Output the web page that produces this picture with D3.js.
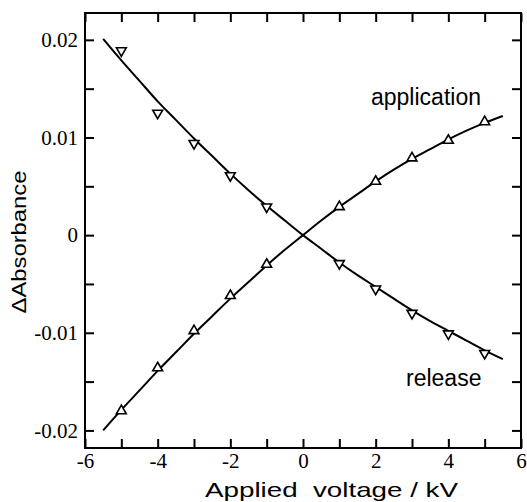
<!DOCTYPE html>
<html><head><meta charset="utf-8">
<script src="https://cdn.jsdelivr.net/npm/d3@7"></script>
<style>body{margin:0;background:#fff} .tick text{font-family:"Liberation Serif","Times New Roman",serif !important;font-size:21px !important;}</style>
</head><body>
<svg id="c" width="527" height="502"></svg>
<script>
// Measured points
const voltages = [-5, -4, -3, -2, -1, 1, 2, 3, 4, 5];
const releaseVals = [0.0189, 0.0125, 0.0094, 0.0061, 0.0029, -0.0029, -0.0055, -0.0080, -0.0101, -0.0121];
const applicationVals = [-0.0180, -0.0136, -0.0098, -0.0062, -0.0030, 0.0029, 0.0055, 0.0079, 0.0097, 0.0116];
// Fitted curves
const curveX = [-5.5,-5,-4.5,-4,-3.5,-3,-2.5,-2,-1.5,-1,-0.5,0,0.5,1,1.5,2,2.5,3,3.5,4,4.5,5,5.5];
const releaseFit = [0.0201,0.0179,0.0158,0.0137,0.0118,0.0099,0.0081,0.0063,0.0046,0.0030,0.0015,0,-0.0014,-0.0028,-0.0041,-0.0053,-0.0065,-0.0077,-0.0088,-0.0098,-0.0108,-0.0118,-0.0127];
const applicationFit = [-0.0200,-0.0179,-0.0159,-0.0139,-0.0120,-0.0101,-0.0083,-0.0065,-0.0048,-0.0031,-0.0015,0,0.0015,0.0029,0.0042,0.0055,0.0067,0.0078,0.0088,0.0098,0.0107,0.0115,0.0122];
const xTicks = [-6,-4,-2,0,2,4,6];
const xMinor = [-6,-5,-4,-3,-2,-1,0,1,2,3,4,5,6];
const yTicks = [-0.02,-0.01,0,0.01,0.02];
const yMinor = [-0.02,-0.015,-0.01,-0.005,0,0.005,0.01,0.015,0.02];
const yTickLabels = ["-0.02","-0.01","0","0.01","0.02"];

const L=85,R=521,T=13,B=448;
const svg=d3.select("#c");
const x=d3.scaleLinear().domain([-6,6]).range([L,R]);
const y=d3.scaleLinear().domain([-0.0218,0.02275]).range([B,T]);
const serif="Liberation Serif, Times New Roman, serif";
const sans="Liberation Sans, Arial, sans-serif";

// axes with inward ticks
const tk=9;
const gB=svg.append("g").attr("transform",`translate(0,${B})`)
  .call(d3.axisBottom(x).tickValues(xMinor).tickSize(-tk).tickPadding(5).tickFormat(d=>xTicks.includes(d)?String(d):""));
const gT=svg.append("g").attr("transform",`translate(0,${T})`)
  .call(d3.axisTop(x).tickValues(xMinor).tickSize(-tk).tickFormat(""));
const gL=svg.append("g").attr("transform",`translate(${L},0)`)
  .call(d3.axisLeft(y).tickValues(yMinor).tickSize(-tk).tickPadding(7).tickFormat(d=>{const i=yTicks.findIndex(v=>Math.abs(v-d)<1e-9);return i>=0?yTickLabels[i]:"";}));
const gR=svg.append("g").attr("transform",`translate(${R},0)`)
  .call(d3.axisRight(y).tickValues(yMinor).tickSize(-tk).tickFormat(""));
[gB,gT,gL,gR].forEach(g=>{
  g.attr("font-family",serif).attr("font-size",21);
  g.select(".domain").remove();
  g.selectAll(".tick line").attr("stroke","#000").attr("stroke-width",2);
  g.selectAll(".tick text").attr("font-family",serif).attr("font-size",21).attr("fill","#000");
});
svg.append("rect").attr("x",L).attr("y",T).attr("width",R-L).attr("height",B-T)
  .attr("fill","none").attr("stroke","#000").attr("stroke-width",2);

// fitted curves
const line=d3.line().x(d=>x(d[0])).y(d=>y(d[1])).curve(d3.curveMonotoneX);
svg.append("path").datum(curveX.map((v,i)=>[v,releaseFit[i]])).attr("d",line)
  .attr("fill","none").attr("stroke","#000").attr("stroke-width",2);
svg.append("path").datum(curveX.map((v,i)=>[v,applicationFit[i]])).attr("d",line)
  .attr("fill","none").attr("stroke","#000").attr("stroke-width",2);

// markers
const tri=d3.symbol().type(d3.symbolTriangle).size(42);
svg.append("g").selectAll("path").data(voltages.map((v,i)=>[v,releaseVals[i]])).join("path")
  .attr("d",tri).attr("transform",d=>`translate(${x(d[0])},${y(d[1])}) rotate(180)`)
  .attr("fill","#fff").attr("stroke","#000").attr("stroke-width",1.6);
svg.append("g").selectAll("path").data(voltages.map((v,i)=>[v,applicationVals[i]])).join("path")
  .attr("d",tri).attr("transform",d=>`translate(${x(d[0])},${y(d[1])})`)
  .attr("fill","#fff").attr("stroke","#000").attr("stroke-width",1.6);

// labels
svg.append("text").attr("x",371).attr("y",105).attr("font-family",sans).attr("font-size",23).text("application");
svg.append("text").attr("x",406).attr("y",386).attr("font-family",sans).attr("font-size",23).text("release");
svg.append("text").attr("x",205).attr("y",497).attr("font-family",sans).attr("font-size",21)
  .style("white-space","pre").attr("textLength",253).attr("lengthAdjust","spacingAndGlyphs").text("Applied  voltage / kV");
svg.append("text").attr("transform","translate(26,242) rotate(-90)").attr("text-anchor","middle")
  .attr("font-family",sans).attr("font-size",20).attr("textLength",143).attr("lengthAdjust","spacingAndGlyphs").text("ΔAbsorbance");
</script>
</body></html>
